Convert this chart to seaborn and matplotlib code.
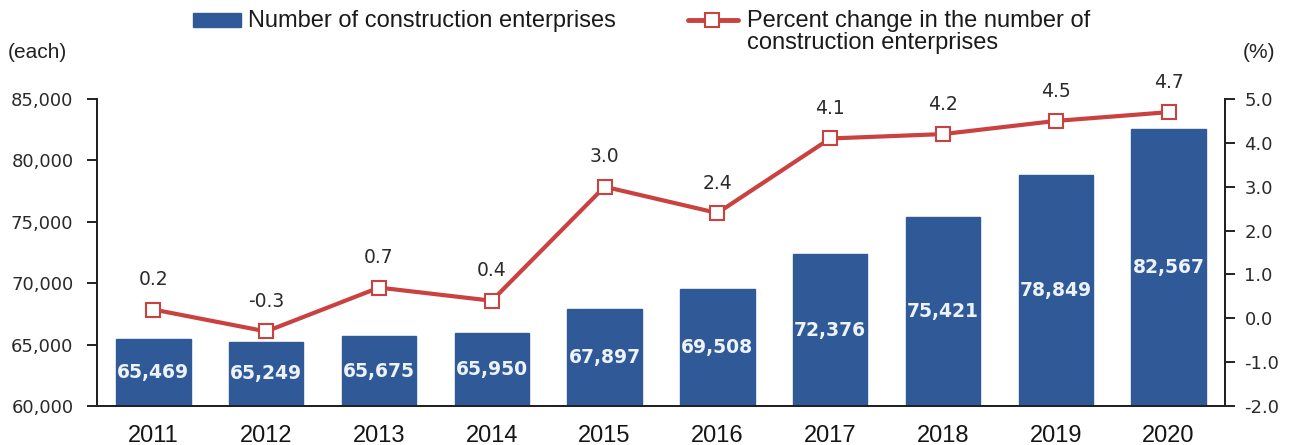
import matplotlib
matplotlib.use("Agg")
import matplotlib.pyplot as plt
import seaborn as sns
import numpy as np
import pandas as pd
from matplotlib.patches import Rectangle
from matplotlib.lines import Line2D
from matplotlib.ticker import FuncFormatter

years = ["2011", "2012", "2013", "2014", "2015", "2016", "2017", "2018", "2019", "2020"]
enterprises = [65469, 65249, 65675, 65950, 67897, 69508, 72376, 75421, 78849, 82567]
pct_change = [0.2, -0.3, 0.7, 0.4, 3.0, 2.4, 4.1, 4.2, 4.5, 4.7]
left_ticks = [60000, 65000, 70000, 75000, 80000, 85000]
right_ticks = [-2.0, -1.0, 0.0, 1.0, 2.0, 3.0, 4.0, 5.0]

bar_color = "#2f5a97"
line_color = "#c9423f"
num_font = ["DejaVu Sans"]
txt_font = ["Liberation Sans", "DejaVu Sans"]

sns.set_theme(style="white")
plt.rcParams["font.family"] = txt_font

W, H = 1290, 445
L, R, T, B = 97, 1225, 99, 406
fig = plt.figure(figsize=(12.9, 4.45), dpi=100)
ax = fig.add_axes([L/W, 1 - B/H, (R-L)/W, (B-T)/H])

df = pd.DataFrame({"year": years, "n": enterprises, "p": pct_change})
sns.barplot(data=df, x="year", y="n", ax=ax, color=bar_color, width=0.66,
            saturation=1, edgecolor=bar_color, zorder=2)
ymin, ymax = 60000, 85000
ax.set_ylim(ymin, ymax)
ax.set_yticks(left_ticks)
ax.yaxis.set_major_formatter(FuncFormatter(lambda v, p: f"{int(v):,}"))
ax.set_xlabel("")
ax.set_ylabel("")
ax.set_xlim(-0.5, len(years) - 0.5)

for i, v in enumerate(enterprises):
    ax.text(i, (ymin + v) / 2, f"{v:,}", ha="center", va="center", color="#eef2fa",
            fontsize=13.5, fontweight="bold", family=num_font, zorder=5)

ax2 = ax.twinx()
sns.pointplot(data=df, x="year", y="p", ax=ax2, color=line_color, marker="s",
              markersize=10, markerfacecolor="white", markeredgecolor=line_color,
              markeredgewidth=1.5, linewidth=3)
ax2.set_ylim(-2, 5)
ax2.set_yticks(right_ticks)
ax2.yaxis.set_major_formatter(FuncFormatter(lambda v, p: f"{v:.1f}"))
ax2.set_ylabel("")
ax2.set_xlabel("")
ax2.set_xlim(-0.5, len(years) - 0.5)

for i, v in enumerate(pct_change):
    ax2.text(i, v + 0.68, f"{v:.1f}", ha="center", va="center", color="#2a2a2a",
             fontsize=13.5, family=num_font)

for a in (ax, ax2):
    a.spines["top"].set_visible(False)
    for s in ("left", "right", "bottom"):
        a.spines[s].set_color("#222222")
        a.spines[s].set_linewidth(1.4)
    a.grid(False)

ax.tick_params(axis="y", left=True, length=7, width=1.4, color="#222222",
               labelsize=13, labelcolor="#2a2a2a", pad=10)
ax.tick_params(axis="x", bottom=False, labelsize=17, labelcolor="#151515", pad=8)
ax2.tick_params(axis="y", right=True, length=7, width=1.4, color="#222222",
                labelsize=13, labelcolor="#2a2a2a", pad=7)
for lab in ax.get_yticklabels() + ax2.get_yticklabels():
    lab.set_family(num_font)

fig.text(8/W, 1 - 52/H, "(each)", fontsize=15, color="#222222", va="center")
fig.text(1243/W, 1 - 52/H, "(%)", fontsize=15, color="#222222", va="center")

# legend (drawn in figure coordinates)
fig.add_artist(Rectangle((193/W, 1 - 27/H), 48/W, 14/H, transform=fig.transFigure,
                         facecolor=bar_color, edgecolor=bar_color))
fig.text(248/W, 1 - 21/H, "Number of construction enterprises", fontsize=17,
         color="#1a1a1a", va="center")
fig.add_artist(Line2D([688/W, 738/W], [1 - 20/H, 1 - 20/H], transform=fig.transFigure,
                      color=line_color, lw=3.5))
fig.add_artist(Line2D([712/W], [1 - 20/H], transform=fig.transFigure, color=line_color,
                      marker="s", markersize=10, markerfacecolor="white",
                      markeredgecolor=line_color, markeredgewidth=1.5))
fig.text(747/W, 1 - 32/H, "Percent change in the number of\nconstruction enterprises",
         fontsize=17, color="#1a1a1a", va="center", linespacing=1.0)

fig.savefig("out.png", dpi=100)
